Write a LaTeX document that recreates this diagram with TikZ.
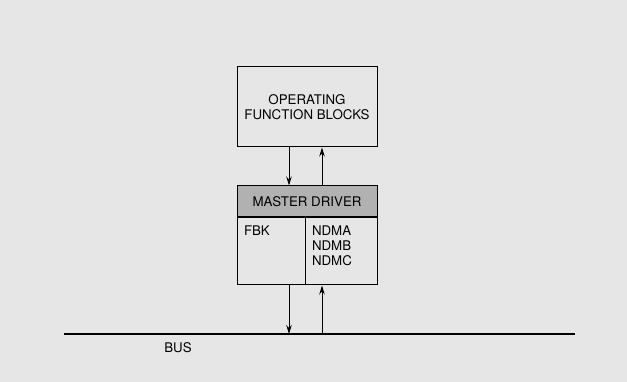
\documentclass[tikz,border=0pt]{standalone}
\usepackage{fontspec}
\setmainfont{TeX Gyre Heros}
\usetikzlibrary{arrows.meta, positioning, calc}
\definecolor{bggray}{HTML}{E6E6E6}
\definecolor{headgray}{HTML}{B1B1B1}

\begin{document}
\begin{tikzpicture}[x=1pt, y=-1pt, font=\fontsize{13.3}{15}\selectfont,
    line width=1pt, >={Stealth[length=9pt, width=5.5pt]},
    box/.style={draw, inner sep=0pt, align=center}]
    \fill[bggray] (0,0) rectangle (627,382);
    % blocks
    \node[box, minimum width=140pt, minimum height=80pt] (ofb) at (307,107) {OPERATING\\FUNCTION BLOCKS};
    \node[box, fill=headgray, minimum width=140pt, minimum height=31pt] (mdhead) at (307,201.5) {MASTER DRIVER};
    \node[box, minimum width=68pt, minimum height=67pt, anchor=north west] (fbkcell) at (mdhead.south west) {};
    \node[box, minimum width=72pt, minimum height=67pt, anchor=north east] (ndmcell) at (mdhead.south east) {};
    \node[anchor=north west, inner sep=0pt] (fbk) at ($(fbkcell.north west)+(7,8)$) {FBK};
    \node[anchor=north west, inner sep=0pt, align=left] (ndm) at ($(ndmcell.north west)+(7,8)$) {NDMA\\NDMB\\NDMC};
    % bus
    \coordinate (busL) at (64,334);
    \coordinate (busR) at (575,334);
    \draw[line width=1.3pt] (busL) -- (busR);
    \node (buslbl) at (178,348) {BUS};
    % links
    \coordinate (dn) at (289,0);
    \coordinate (up) at (322,0);
    \draw[->] (ofb.south -| dn) -- (mdhead.north -| dn);
    \draw[<-] (ofb.south -| up) -- (mdhead.north -| up);
    \draw[->] (fbkcell.south -| dn) -- (busL -| dn);
    \draw[<-] (ndmcell.south -| up) -- (busL -| up);
\end{tikzpicture}
\end{document}
